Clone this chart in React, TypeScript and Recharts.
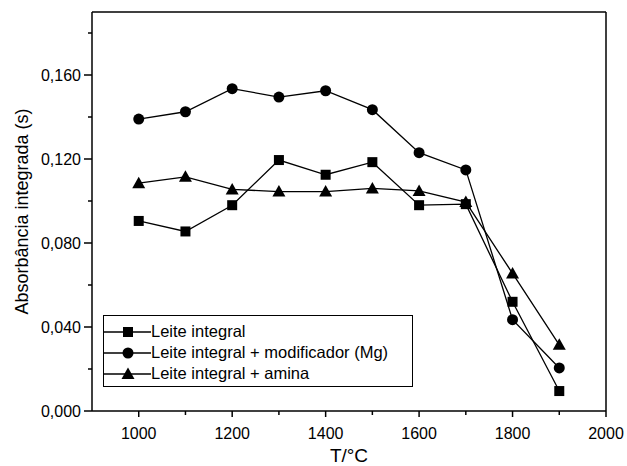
import { LineChart, Line, XAxis, YAxis, ReferenceLine } from "recharts";

const temperatures = [1000, 1100, 1200, 1300, 1400, 1500, 1600, 1700, 1800, 1900];
const leiteIntegral = [0.0905, 0.0855, 0.098, 0.1195, 0.1125, 0.1185, 0.098, 0.0985, 0.052, 0.0095];
const leiteModificador = [0.139, 0.1425, 0.1535, 0.1495, 0.1525, 0.1435, 0.123, 0.1148, 0.0435, 0.0205];
const leiteAmina = [0.1085, 0.1115, 0.1055, 0.1045, 0.1045, 0.106, 0.1048, 0.0995, 0.0655, 0.0315];

const xTicks = [1000, 1100, 1200, 1300, 1400, 1500, 1600, 1700, 1800, 1900, 2000];
const xLabels = [1000, 1200, 1400, 1600, 1800, 2000];
const yTicks = [0, 0.02, 0.04, 0.06, 0.08, 0.1, 0.12, 0.14, 0.16, 0.18];
const yLabels = [0, 0.04, 0.08, 0.12, 0.16];

const seriesNames = ["Leite integral", "Leite integral + modificador (Mg)", "Leite integral + amina"];

const data = temperatures.map((t, i) => ({
  t,
  integral: leiteIntegral[i],
  modificador: leiteModificador[i],
  amina: leiteAmina[i],
}));

const FONT = "'Liberation Sans', Arial, Helvetica, sans-serif";

const Square = (props: any) => {
  const { cx, cy } = props;
  if (cx == null || cy == null) return null;
  return <rect x={cx - 5} y={cy - 5} width={10} height={10} fill="#000" />;
};

const Circle = (props: any) => {
  const { cx, cy } = props;
  if (cx == null || cy == null) return null;
  return <circle cx={cx} cy={cy} r={5.5} fill="#000" />;
};

const Triangle = (props: any) => {
  const { cx, cy } = props;
  if (cx == null || cy == null) return null;
  return <polygon points={`${cx},${cy - 6.5} ${cx + 6.5},${cy + 5} ${cx - 6.5},${cy + 5}`} fill="#000" />;
};

const XTick = (props: any) => {
  const { x, y, payload } = props;
  const major = xLabels.includes(payload.value);
  return (
    <g>
      <line x1={x} y1={y} x2={x} y2={y + (major ? 6 : 4)} stroke="#000" strokeWidth={1.5} />
      {major && (
        <text x={x} y={y + 28} textAnchor="middle" fontSize={16} fontFamily={FONT} fill="#000">
          {payload.value}
        </text>
      )}
    </g>
  );
};

const YTick = (props: any) => {
  const { x, y, payload } = props;
  const major = yLabels.some((v) => Math.abs(v - payload.value) < 1e-9);
  return (
    <g>
      <line x1={x} y1={y} x2={x - (major ? 8 : 4)} y2={y} stroke="#000" strokeWidth={1.5} />
      {major && (
        <text x={x - 11} y={y + 6} textAnchor="end" fontSize={16} fontFamily={FONT} fill="#000">
          {payload.value.toFixed(3).replace(".", ",")}
        </text>
      )}
    </g>
  );
};

const markers = [Square, Circle, Triangle];

function LegendBox() {
  return (
    <div
      style={{
        position: "absolute",
        left: 103,
        top: 315,
        width: 310,
        height: 72,
        border: "1.5px solid #000",
        fontFamily: FONT,
        fontSize: 16.5,
        color: "#000",
        boxSizing: "border-box",
        paddingTop: 5,
      }}
    >
      {seriesNames.map((name, i) => {
        const M = markers[i];
        return (
          <div key={name} style={{ display: "flex", alignItems: "center", height: 21 }}>
            <svg width={47} height={16} style={{ flex: "none" }}>
              <line x1={0} y1={8} x2={47} y2={8} stroke="#000" strokeWidth={1.3} />
              <M cx={24} cy={8} />
            </svg>
            <span style={{ whiteSpace: "nowrap" }}>{name}</span>
          </div>
        );
      })}
    </div>
  );
}

export default function App() {
  return (
    <div style={{ position: "absolute", left: 0, top: 0, width: 627, height: 466, background: "#fff" }}>
      <LineChart width={627} height={466} data={data} margin={{ top: 12, right: 21, bottom: 0, left: 0 }}>
        <XAxis
          dataKey="t"
          type="number"
          domain={[900, 2000]}
          ticks={xTicks}
          interval={0}
          tickSize={0}
          tickMargin={0}
          tick={<XTick />}
          axisLine={{ stroke: "#000", strokeWidth: 1.5 }}
          height={55}
          label={{ value: "T/°C", position: "insideBottom", offset: 4, fontSize: 19, fontFamily: FONT, fill: "#000" }}
        />
        <YAxis
          type="number"
          domain={[0, 0.19]}
          ticks={yTicks}
          interval={0}
          tickSize={0}
          tickMargin={0}
          tick={<YTick />}
          width={92}
          axisLine={{ stroke: "#000", strokeWidth: 1.5 }}
          label={{ value: "Absorbância integrada (s)", angle: -90, position: "insideLeft", offset: 22, style: { textAnchor: "middle" }, fontSize: 18, fontFamily: FONT, fill: "#000" }}
        />
        <ReferenceLine y={0.19} stroke="#000" strokeWidth={1.5} />
        <ReferenceLine x={2000} stroke="#000" strokeWidth={1.5} />
        <Line dataKey="integral" stroke="#000" strokeWidth={1.3} dot={<Square />} isAnimationActive={false} />
        <Line dataKey="modificador" stroke="#000" strokeWidth={1.3} dot={<Circle />} isAnimationActive={false} />
        <Line dataKey="amina" stroke="#000" strokeWidth={1.3} dot={<Triangle />} isAnimationActive={false} />
      </LineChart>
      <LegendBox />
    </div>
  );
}
